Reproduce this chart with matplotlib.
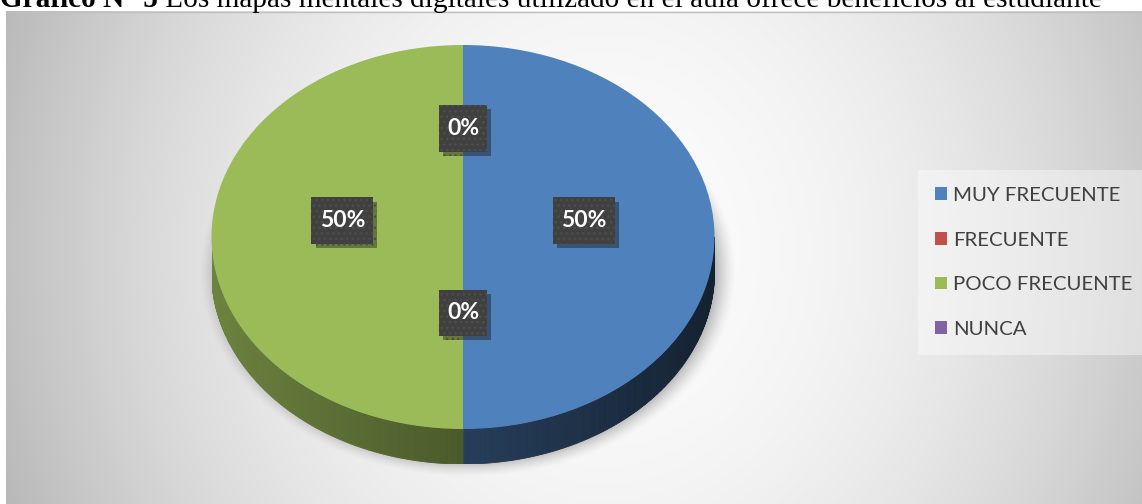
import numpy as np
import matplotlib
matplotlib.use("Agg")
import matplotlib.pyplot as plt
from matplotlib.collections import PolyCollection
from matplotlib.colors import to_rgb
from matplotlib.path import Path
from matplotlib import patheffects as pe

plt.rcParams['font.family'] = ['Lato', 'DejaVu Sans']

# datos de la encuesta
categorias = ['MUY FRECUENTE', 'FRECUENTE', 'POCO FRECUENTE', 'NUNCA']
porcentajes = [50, 0, 50, 0]
colores = ['#4F81BD', '#C0504D', '#9BBB59', '#8064A2']
titulo_num = 'Gráfico N° 5'
titulo = ' Los mapas mentales digitales utilizado en el aula ofrece beneficios al estudiante'

W, H = 1142, 504
fig = plt.figure(figsize=(W / 100, H / 100), dpi=100)
fig.patch.set_facecolor('white')

# geometria del pastel (pixeles)
cx, cy, rx, ry, prof = 463, 237, 251.5, 192, 35


class Caja:
    """Caja rectangular con relleno horizontal y vertical distintos."""
    def __init__(self, px, py):
        self.px, self.py = px, py

    def __call__(self, x0, y0, width, height, mutation_size):
        px, py = self.px * mutation_size, self.py * mutation_size
        x0, y0 = x0 - px, y0 - py
        x1, y1 = x0 + width + 2 * px, y0 + height + 2 * py
        return Path([(x0, y0), (x1, y0), (x1, y1), (x0, y1), (x0, y0)],
                    [Path.MOVETO, Path.LINETO, Path.LINETO, Path.LINETO, Path.CLOSEPOLY])


# fondo: degradado gris con el centro claro
bg = fig.add_axes([0, 0, 1, 1])
xx, yy = np.meshgrid(np.arange(6, W) + 0.5, np.arange(11, H) + 0.5)
tono = 252 - 60 * ((xx - 605) / 600) ** 2 - 8 * ((yy - 250) / 250) ** 2
tono = np.clip(tono, 185, 255) / 255
bg.imshow(np.dstack([tono] * 3), extent=(6, W, H, 11), interpolation='bilinear',
          aspect='auto', zorder=0)

# sombra difusa debajo del pastel
d = np.sqrt(((xx - (cx + 5)) / rx) ** 2 + ((yy - (cy + prof)) / ry) ** 2)
alfa = 0.32 * np.clip((1.07 - d) / 0.1, 0, 1) ** 1.5
sombra = np.zeros(xx.shape + (4,))
sombra[..., 3] = alfa
bg.imshow(sombra, extent=(6, W, H, 11), interpolation='bilinear', aspect='auto', zorder=1)
bg.plot([6, W], [11.5, 11.5], color='#BFBFBF', lw=1, zorder=2)
bg.set_xlim(0, W)
bg.set_ylim(H, 0)
bg.axis('off')

# pastel
ax = fig.add_axes([(cx - rx) / W, (H - (cy + ry + prof)) / H, 2 * rx / W, (2 * ry + prof) / H])
cunas, _, pct = ax.pie(porcentajes, colors=colores, startangle=90, counterclock=False,
                       autopct='%1.0f%%', pctdistance=0.48,
                       wedgeprops=dict(linewidth=0, zorder=3))
ax.set_aspect('auto')
h = prof / ry
ax.set_xlim(-1, 1)
ax.set_ylim(-1 - h, 1)

# lateral del pastel en 3D, sombreado segun la posicion horizontal
polys, cols = [], []
for w, c in zip(cunas, colores):
    if w.theta2 - w.theta1 <= 0:
        continue
    t = np.radians(np.linspace(w.theta1, w.theta2, 361))
    base = np.array(to_rgb(c))
    for a, b in zip(t[:-1], t[1:]):
        if np.sin(a) > 1e-9 or np.sin(b) > 1e-9:
            continue
        x0, x1 = np.cos(a), np.cos(b)
        y0, y1 = np.sin(a), np.sin(b)
        polys.append([(x0, y0), (x1, y1), (x1, y1 - h), (x0, y0 - h)])
        f = 0.48 - 0.22 * (x0 + x1) / 2
        cols.append(np.clip(base * f, 0, 1))
ax.add_collection(PolyCollection(polys, facecolors=cols, edgecolors=cols,
                                 linewidths=0.6, zorder=2))

# etiquetas de porcentaje
for t in pct:
    x, y = t.get_position()
    t.set_position((x, y + 0.085))
    t.set_color('white')
    t.set_fontweight('bold')
    t.set_fontsize(16.5)
    t.set_zorder(5)
    t.set_bbox(dict(boxstyle=Caja(0.36, 0.56), fc='#404040', ec='#4d4d4d',
                    lw=0, hatch='...'))
    t.get_bbox_patch().set_path_effects([
        pe.SimplePatchShadow(offset=(3, -3), shadow_rgbFace='black', alpha=0.35),
        pe.Normal()])

# leyenda
leg = fig.legend(cunas, categorias, loc='upper left',
                 bbox_to_anchor=(918 / W, 1 - 170 / H), borderaxespad=0,
                 frameon=True, fancybox=False, facecolor='white', edgecolor='none',
                 framealpha=0.4, prop=dict(family='Lato', size=14.7),
                 handlelength=0.58, handleheight=0.58, handletextpad=0.3,
                 labelspacing=1.35, borderpad=0.83)
for txt in leg.get_texts():
    txt.set_color('#404040')

# titulo en dos partes: numero en negrita y texto normal
t1 = fig.text(0, 1 - 7 / H, titulo_num, family='Liberation Serif', weight='bold',
              size=21.1, va='baseline', color='black')
fig.canvas.draw()
bb = t1.get_window_extent()
fig.text(bb.x1 / W, 1 - 7 / H, titulo, family='Liberation Serif', size=21.1,
         va='baseline', color='black')

fig.savefig('out.png', dpi=100, facecolor='white')
